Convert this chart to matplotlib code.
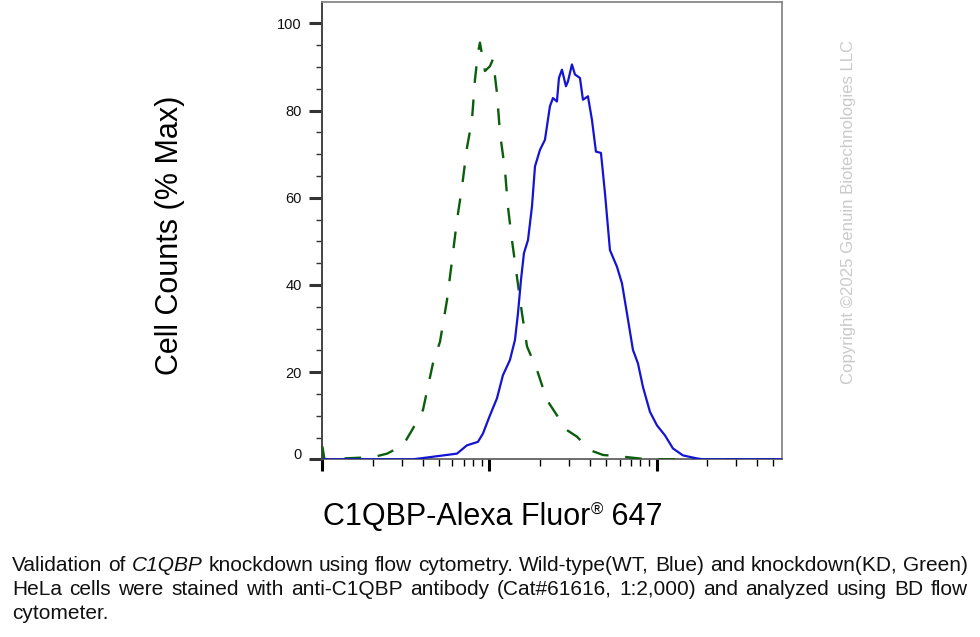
import matplotlib
matplotlib.use("Agg")
import matplotlib.pyplot as plt
import matplotlib.transforms as mtransforms
from matplotlib.ticker import FixedLocator, LogLocator, NullFormatter

plt.rcParams['font.family'] = ['Liberation Sans', 'DejaVu Sans']
plt.rcParams['lines.scale_dashes'] = False

# ---- data (fluorescence intensity vs % of max) ----
wt_x = [100, 349, 441, 639, 733, 853, 914, 1007, 1109, 1204, 1326, 1421, 1481, 1543, 1608,
        1700, 1796, 1872, 2005, 2147, 2300, 2398, 2533, 2604, 2714, 2868, 2948, 3114, 3246,
        3478, 3625, 3883, 4102, 4335, 4645, 4908, 5257, 5788, 6202, 6645, 7217, 7733, 8284,
        9121, 10041, 11210, 12516, 14367, 17418, 18920, 56000]
wt_y = [0, 0, 0.5, 1.3, 3.2, 4.0, 5.9, 10.1, 14.0, 19.3, 22.8, 27.4, 33.5, 41.1, 47.3,
        50.3, 58.0, 67.2, 71.0, 73.3, 81.0, 82.9, 82.1, 87.5, 89.4, 85.6, 86.7, 90.6, 88.3,
        87.5, 82.5, 83.3, 77.9, 70.6, 70.3, 61.1, 48.0, 44.2, 40.4, 33.5, 25.1, 22.0, 16.6,
        10.9, 7.8, 5.5, 2.5, 0.9, 0.2, 0, 0]

kd_x = [100, 103, 201, 244, 304, 349, 400, 459, 506, 557, 597, 639, 685, 733, 786, 819,
        853, 877, 940, 1007, 1049, 1109, 1156, 1238, 1290, 1363, 1461, 1565, 1677, 1924,
        2207, 2533, 2907, 3337, 3991, 4775, 6645, 8284, 10464, 56000]
kd_y = [3.0, 0, 0.5, 1.3, 3.2, 7.1, 11.3, 22.0, 27.0, 36.5, 45.6, 54.8, 62.5, 71.4, 77.9, 87.1,
        93.2, 95.6, 89.1, 90.2, 91.8, 84.0, 74.8, 66.4, 57.9, 50.3, 41.8, 33.5, 25.9, 20.5,
        13.6, 10.1, 6.7, 5.2, 2.1, 1.0, 0.5, 0.1, 0, 0]

y_major = [0, 20, 40, 60, 80, 100]
y_labels = ["0", "20", "40", "60", "80", "100"]
x_major = [100, 1000, 10000]

xlabel_parts = ["C1QBP-Alexa Fluor", "\u00ae", " 647"]
ylabel = "Cell Counts (% Max)"
copyright_text = "Copyright \u00a92025 Genuin Biotechnologies LLC"
caption_line1 = "Validation of C1QBP knockdown using flow cytometry. Wild-type(WT, Blue) and knockdown(KD, Green)"
caption_line2 = "HeLa cells were stained with anti-C1QBP antibody (Cat#61616, 1:2,000) and analyzed using BD flow"
caption_line3 = "cytometer."
italic_words = {"C1QBP"}

W, H = 980, 637
fig = plt.figure(figsize=(W / 100, H / 100), dpi=100)
fig.patch.set_facecolor('white')

left, right, top, bottom = 322.3, 781.7, 1.7, 459.3
ax = fig.add_axes([left / W, 1 - bottom / H, (right - left) / W, (bottom - top) / H])

ax.plot(kd_x, kd_y, color='#0b5e0b', lw=1.7, linestyle=(0, (12, 12)), zorder=3)
ax.plot(wt_x, wt_y, color='#1414d2', lw=1.6, zorder=4)

ax.set_xscale('log')
ax.set_xlim(100, 56000)
ax.set_ylim(0, 105)

ax.xaxis.set_major_locator(FixedLocator(x_major))
ax.xaxis.set_minor_locator(LogLocator(base=10, subs=[2, 3, 4, 5, 6, 7, 8, 9], numticks=20))
ax.xaxis.set_major_formatter(NullFormatter())
ax.xaxis.set_minor_formatter(NullFormatter())

ax.yaxis.set_major_locator(FixedLocator(y_major))
ax.set_yticklabels(y_labels)
ax.yaxis.set_minor_locator(FixedLocator([v for v in range(5, 105, 5) if v % 20 != 0]))

ax.tick_params(axis='y', which='major', direction='out', length=9.4, width=2.2,
               color='#333333', labelsize=10.5, pad=5.5, labelcolor='#111111')
ax.tick_params(axis='y', which='minor', direction='out', length=4.3, width=1.0, color='#333333')
ax.tick_params(axis='x', which='major', direction='out', length=8.6, width=2.2, color='#000000')
ax.tick_params(axis='x', which='minor', direction='out', length=5.0, width=1.0, color='#000000')

for side in ['top', 'right']:
    ax.spines[side].set_color('#888888')
    ax.spines[side].set_linewidth(1.3)
ax.spines['left'].set_color('#444444')
ax.spines['left'].set_linewidth(1.4)
ax.spines['bottom'].set_color('#555555')
ax.spines['bottom'].set_linewidth(1.2)

fig.canvas.draw()
renderer = fig.canvas.get_renderer()
for t in ax.yaxis.get_major_ticks():
    if t.label1.get_text() == "0":
        t.label1.set_transform(t.label1.get_transform() +
                               mtransforms.ScaledTranslation(0, 6 / 100, fig.dpi_scale_trans))

fig.text(170 / W, 1 - 235 / H, ylabel, rotation=90, ha='center', va='center', fontsize=22)

# x label composed of main text, small raised registered sign, and number
xl_base = 1 - 525 / H
sizes = [22, 12, 22]
raises = [0, 10, 0]
pieces = []
for part, s, r in zip(xlabel_parts, sizes, raises):
    pieces.append(fig.text(0, xl_base + r / H, part, ha='left', va='baseline', fontsize=s))
widths = [p.get_window_extent(renderer=renderer).width for p in pieces]
x0 = 493 - sum(widths) / 2
for p, w in zip(pieces, widths):
    p.set_x(x0 / W)
    x0 += w

fig.text(848 / W, 1 - 212 / H, copyright_text, rotation=90, ha='center', va='center',
         fontsize=12.1, color='#cacaca')

# caption (justified lines 1-2, like the reference)
cap_size = 15
cap_left, cap_right = 12, 968


def justified_line(text, baseline):
    words = text.split(" ")
    objs = [fig.text(0, 1 - baseline / H, w, ha='left', va='baseline', fontsize=cap_size,
                     style='italic' if w in italic_words else 'normal', color='#111111')
            for w in words]
    ws = [o.get_window_extent(renderer=renderer).width for o in objs]
    gap = (cap_right - cap_left - sum(ws)) / (len(words) - 1)
    x = cap_left
    for o, w in zip(objs, ws):
        o.set_x(x / W)
        x += w + gap


justified_line(caption_line1, 571)
justified_line(caption_line2, 595)
fig.text(cap_left / W, 1 - 619 / H, caption_line3, ha='left', va='baseline', fontsize=cap_size,
         color='#111111')

fig.savefig('out.png', dpi=100, facecolor='white')
